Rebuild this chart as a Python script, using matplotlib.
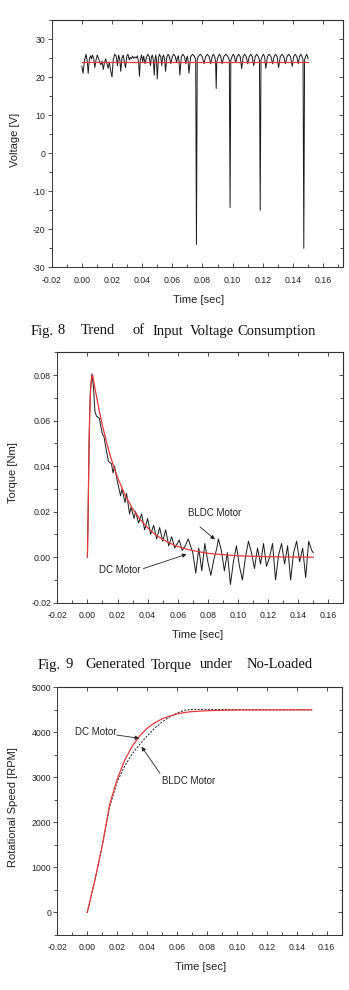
import matplotlib
matplotlib.use("Agg")
import matplotlib.pyplot as plt
from matplotlib.ticker import MultipleLocator, FixedLocator, FixedFormatter

plt.rcParams['font.family'] = ['Liberation Sans', 'DejaVu Sans']

# ---------------- data ----------------
# Fig. 8 : input voltage (black = BLDC, red = DC reference)
volt_t = [0.0000, 0.0008, 0.0018, 0.0028, 0.0036, 0.0042, 0.0050, 0.0058, 0.0064, 0.0070,
          0.0078, 0.0086, 0.0094, 0.0102, 0.0110, 0.0118, 0.0126, 0.0134, 0.0142, 0.0150,
          0.0158, 0.0166, 0.0174, 0.0182, 0.0192, 0.0200, 0.0208, 0.0218, 0.0228, 0.0236,
          0.0244, 0.0252, 0.0258, 0.0266, 0.0274, 0.0282, 0.0290, 0.0298, 0.0306, 0.0314,
          0.0320, 0.0328, 0.0336, 0.0344, 0.0352, 0.0360, 0.0368, 0.0376, 0.0382, 0.0388,
          0.0396, 0.0404, 0.0410,
          0.0420, 0.0429, 0.0438, 0.0447, 0.0455, 0.0461, 0.0467, 0.0474, 0.0480, 0.0485,
          0.0490, 0.0495, 0.0500, 0.0508, 0.0515, 0.0523, 0.0530, 0.0536, 0.0542, 0.0549,
          0.0555, 0.0564, 0.0572, 0.0581, 0.0590, 0.0600, 0.0610, 0.0620, 0.0628, 0.0634,
          0.0640, 0.0645, 0.0650, 0.0660, 0.0670, 0.0680, 0.0690, 0.0695, 0.0700, 0.0705,
          0.0710, 0.0722, 0.0735, 0.0747, 0.0755, 0.0760, 0.0765, 0.0772, 0.0785, 0.0798,
          0.0810, 0.0821, 0.0832, 0.0844, 0.0855, 0.0864, 0.0872, 0.0881, 0.0887, 0.0891,
          0.0895, 0.0904, 0.0912, 0.0921, 0.0930, 0.0942, 0.0955, 0.0968, 0.0978, 0.0983,
          0.0988, 0.0996, 0.1004, 0.1012, 0.1020, 0.1030, 0.1040, 0.1050, 0.1060, 0.1070,
          0.1080, 0.1090, 0.1100, 0.1110, 0.1120, 0.1130, 0.1140, 0.1150, 0.1160, 0.1170,
          0.1178, 0.1183, 0.1188, 0.1196, 0.1204, 0.1212, 0.1220, 0.1231, 0.1242, 0.1254,
          0.1265, 0.1275, 0.1285, 0.1295, 0.1305, 0.1316, 0.1327, 0.1339, 0.1350, 0.1361,
          0.1372, 0.1384, 0.1395, 0.1405, 0.1415, 0.1425, 0.1435, 0.1444, 0.1452, 0.1460,
          0.1467, 0.1472, 0.1477, 0.1484, 0.1491, 0.1497, 0.1500]
volt_bldc = [22.8, 21.0, 24.5, 26.0, 24.0, 21.0, 24.8, 25.6, 24.8, 25.8,
             25.0, 22.5, 24.5, 25.8, 25.0, 24.0, 23.2, 24.2, 22.0, 23.8,
             24.8, 23.5, 22.3, 23.9, 21.5, 20.0, 24.5, 26.0, 25.5, 23.0,
             25.8, 24.5, 21.5, 25.0, 25.8, 24.0, 22.5, 25.5, 26.0, 24.5,
             25.2, 24.8, 25.5, 24.9, 25.3, 25.0, 25.6, 24.0, 20.2, 24.5,
             25.8, 24.0, 25.5,
             23.5, 25.3, 26.0, 25.3, 23.0, 25.2, 25.8, 24.5, 20.5, 24.5,
             25.8, 24.5, 19.5, 25.0, 26.0, 25.3, 23.0, 25.3, 25.8, 24.5,
             21.5, 25.3, 26.0, 25.3, 23.5, 25.4, 26.0, 25.4, 23.8, 25.0,
             25.6, 24.0, 20.5, 25.4, 26.0, 25.4, 23.5, 25.0, 25.5, 24.0,
             21.0, 25.4, 26.0, 25.4, 24.5, -24.0, 24.5, 25.4, 26.0, 25.4,
             23.5, 25.4, 26.0, 25.4, 23.5, 25.4, 26.0, 25.4, 24.0, 17.0,
             24.0, 25.4, 26.0, 25.4, 23.5, 25.4, 26.0, 25.4, 24.5, -14.3,
             24.5, 25.4, 26.0, 25.4, 23.8, 25.4, 26.0, 25.4, 22.2, 25.4,
             26.0, 25.4, 23.5, 25.4, 26.0, 25.4, 23.0, 25.4, 26.0, 25.4,
             24.5, -15.0, 24.5, 25.4, 26.0, 25.4, 22.3, 25.4, 26.0, 25.4,
             23.5, 25.4, 26.0, 25.4, 22.5, 25.4, 26.0, 25.4, 23.5, 25.4,
             26.0, 25.4, 22.8, 25.4, 26.0, 25.4, 23.5, 25.4, 26.0, 25.4,
             24.5, -25.0, 24.5, 25.4, 26.0, 25.4, 24.8]
volt_dc_t = [0.0, 0.15]
volt_dc = [24.0, 24.0]

# Fig. 9 : generated torque
torq_dc_t = [0.0, 0.0005, 0.001, 0.0015, 0.002, 0.0025, 0.003, 0.0035, 0.005, 0.0075,
             0.010, 0.0125, 0.015, 0.0175, 0.020, 0.025, 0.030, 0.035, 0.040, 0.045,
             0.050, 0.055, 0.060, 0.065, 0.070, 0.080, 0.090, 0.100, 0.110, 0.120,
             0.130, 0.150]
torq_dc = [0.0, 0.020, 0.045, 0.062, 0.072, 0.077, 0.0795, 0.080, 0.0742, 0.0655,
           0.0578, 0.0510, 0.0450, 0.0397, 0.0351, 0.0273, 0.0213, 0.0166, 0.0129, 0.0100,
           0.0078, 0.0061, 0.0047, 0.0037, 0.0029, 0.0017, 0.0011, 0.0006, 0.0004, 0.0002,
           0.0001, 0.0]
torq_bldc_t = [0.0, 0.0005, 0.001, 0.0015, 0.002, 0.003, 0.004, 0.005, 0.006, 0.008,
               0.009, 0.010, 0.011, 0.012, 0.014, 0.016, 0.017, 0.018, 0.020, 0.022,
               0.023, 0.025, 0.026, 0.028, 0.029, 0.031, 0.032, 0.034, 0.036, 0.038,
               0.040, 0.042, 0.044, 0.046, 0.048, 0.050, 0.052, 0.054, 0.056, 0.058,
               0.061, 0.063, 0.065, 0.067, 0.070, 0.072, 0.074, 0.076, 0.078, 0.080,
               0.082, 0.084, 0.086, 0.087, 0.089, 0.091, 0.093, 0.095, 0.097, 0.099,
               0.101, 0.103, 0.105, 0.107, 0.109, 0.111, 0.113, 0.115, 0.117, 0.119,
               0.121, 0.123, 0.125, 0.127, 0.129, 0.131, 0.133, 0.135, 0.137, 0.139,
               0.141, 0.143, 0.145, 0.147, 0.149, 0.150]
torq_bldc = [0.0, 0.020, 0.046, 0.063, 0.073, 0.0805, 0.075, 0.064, 0.062, 0.061,
             0.057, 0.054, 0.053, 0.049, 0.042, 0.041, 0.037, 0.040, 0.033, 0.027,
             0.030, 0.024, 0.028, 0.019, 0.022, 0.017, 0.020, 0.015, 0.019, 0.012,
             0.017, 0.010, 0.014, 0.008, 0.013, 0.007, 0.012, 0.005, 0.009, 0.004,
             0.0075, 0.003, 0.005, 0.008, 0.002, -0.007, 0.004, -0.006, 0.006, -0.002,
             -0.008, -0.001, 0.004, 0.008, 0.003, -0.006, 0.002, -0.012, -0.002, 0.005,
             -0.004, -0.010, 0.000, 0.007, 0.002, -0.005, 0.004, -0.003, 0.006, -0.004,
             0.000, 0.006, -0.010, 0.001, 0.006, -0.003, 0.005, -0.010, 0.002, 0.007,
             -0.002, 0.004, -0.009, 0.007, 0.003, 0.002]

# Fig. 10 : rotational speed
speed_t = [0.0, 0.005, 0.010, 0.015, 0.020, 0.025, 0.030, 0.035, 0.040, 0.045,
           0.050, 0.055, 0.060, 0.065, 0.070, 0.080, 0.090, 0.100, 0.150]
speed_dc = [0, 700, 1480, 2400, 2960, 3380, 3690, 3920, 4090, 4210,
            4300, 4360, 4410, 4440, 4460, 4480, 4490, 4495, 4500]
speed_bldc = [0, 700, 1480, 2350, 2900, 3250, 3520, 3730, 3920, 4090,
              4230, 4340, 4430, 4490, 4510, 4510, 4508, 4505, 4500]

xticks = [-0.02, 0.00, 0.02, 0.04, 0.06, 0.08, 0.10, 0.12, 0.14, 0.16]
xtick_labels = ["-0.02", "0.00", "0.02", "0.04", "0.06", "0.08", "0.10", "0.12", "0.14", "0.16"]
volt_ticks = [-30, -20, -10, 0, 10, 20, 30]
volt_labels = ["-30", "-20", "-10", "0", "10", "20", "30"]
torq_ticks = [-0.02, 0.00, 0.02, 0.04, 0.06, 0.08]
torq_labels = ["-0.02", "0.00", "0.02", "0.04", "0.06", "0.08"]
speed_ticks = [0, 1000, 2000, 3000, 4000, 5000]
speed_labels = ["0", "1000", "2000", "3000", "4000", "5000"]

captions = [
    (["Fig.", "8", "Trend", "of", "Input", "Voltage", "Consumption"],
     [42, 61, 98.3, 138.3, 168.3, 211.7, 276.7], 331),
    (["Fig.", "9", "Generated", "Torque", "under", "No-Loaded"],
     [49, 68.8, 115, 171.7, 216.7, 279.2], 665),
]

# ---------------- figure ----------------
W, H = 349, 990
fig = plt.figure(figsize=(W / 100, H / 100), dpi=100)

RED = '#e5383c'
BLK = '#1a1a1a'
TICK_FS = 6.3
LAB_FS = 8


def px_axes(l, r, t, b):
    return fig.add_axes([l / W, 1 - b / H, (r - l) / W, (b - t) / H])


def style(ax, xlim, ylim, yt, yl, ymin, xlabel, ylabel, xlab_xy, ylab_xy):
    ax.set_xlim(*xlim)
    ax.set_ylim(*ylim)
    ax.xaxis.set_major_locator(FixedLocator(xticks))
    ax.xaxis.set_major_formatter(FixedFormatter(xtick_labels))
    ax.xaxis.set_minor_locator(MultipleLocator(0.01))
    ax.yaxis.set_major_locator(FixedLocator(yt))
    ax.yaxis.set_major_formatter(FixedFormatter(yl))
    ax.yaxis.set_minor_locator(MultipleLocator(ymin))
    ax.tick_params(axis='x', which='both', direction='in', bottom=True, top=False,
                   labelsize=TICK_FS, pad=6, width=0.6, color='#333')
    ax.tick_params(axis='x', which='major', length=3)
    ax.tick_params(axis='x', which='minor', length=2)
    ax.tick_params(axis='y', which='both', direction='out', left=True, right=False,
                   labelsize=TICK_FS, pad=1.5, width=0.6, color='#333')
    ax.tick_params(axis='y', which='major', length=3)
    ax.tick_params(axis='y', which='minor', length=2)
    for s in ax.spines.values():
        s.set_linewidth(0.7)
        s.set_color('#333')
    # top / right inward ticks
    sx = ax.secondary_xaxis('top')
    sx.xaxis.set_major_locator(FixedLocator(xticks))
    sx.xaxis.set_minor_locator(MultipleLocator(0.01))
    sx.tick_params(which='both', direction='in', labeltop=False, width=0.6, color='#333')
    sx.tick_params(which='major', length=3)
    sx.tick_params(which='minor', length=0)
    sy = ax.secondary_yaxis('right')
    sy.yaxis.set_major_locator(FixedLocator(yt))
    sy.yaxis.set_minor_locator(MultipleLocator(ymin))
    sy.tick_params(which='both', direction='in', labelright=False, width=0.6, color='#333')
    sy.tick_params(which='major', length=3)
    sy.tick_params(which='minor', length=2)
    ax.set_xlabel(xlabel, fontsize=LAB_FS, color='#222')
    ax.set_ylabel(ylabel, fontsize=LAB_FS, color='#222')
    ax.xaxis.set_label_coords(*xlab_xy)
    ax.yaxis.set_label_coords(*ylab_xy)
    for lab in ax.get_xticklabels() + ax.get_yticklabels():
        lab.set_color('#222')


def arrow(ax, head, tail):
    ax.annotate('', xy=head, xytext=tail,
                arrowprops=dict(arrowstyle='-|>', color='#222', lw=0.6,
                                mutation_scale=6, shrinkA=0, shrinkB=0))


# Panel 1
ax1 = px_axes(51.7, 342.7, 20, 267.3)
ax1.plot(volt_t, volt_bldc, color=BLK, lw=0.7)
ax1.plot(volt_dc_t, volt_dc, color=RED, lw=0.9)
style(ax1, (-0.02, 0.173), (-30, 35), volt_ticks, volt_labels, 5,
      'Time [sec]', 'Voltage [V]', (0.503, -0.112), (-0.109, 0.515))

# Panel 2
ax2 = px_axes(57.3, 342.7, 352.3, 602.7)
ax2.plot(torq_bldc_t, torq_bldc, color=BLK, lw=0.7)
ax2.plot(torq_dc_t, torq_dc, color=RED, lw=0.9)
style(ax2, (-0.02, 0.1696), (-0.02, 0.09), torq_ticks, torq_labels, 0.01,
      'Time [sec]', 'Torque [Nm]', (0.493, -0.109), (-0.137, 0.518))
ax2.text(0.0847, 0.0195, 'BLDC Motor', fontsize=7, ha='center', va='center', color='#222')
arrow(ax2, (0.0847, 0.0078), (0.0748, 0.0133))
ax2.text(0.0217, -0.0057, 'DC Motor', fontsize=7, ha='center', va='center', color='#222')
arrow(ax2, (0.0659, 0.0013), (0.0372, -0.0050))

# Panel 3
ax3 = px_axes(57.3, 341.7, 687.3, 935)
ax3.plot(speed_t, speed_bldc, color=BLK, lw=0.7, ls=(0, (2, 1.5)))
ax3.plot(speed_t, speed_dc, color=RED, lw=0.9)
style(ax3, (-0.02, 0.170), (-500, 5000), speed_ticks, speed_labels, 500,
      'Time [sec]', 'Rotational Speed [RPM]', (0.502, -0.109), (-0.137, 0.517))
ax3.text(0.0056, 4015, 'DC Motor', fontsize=7, ha='center', va='center', color='#222')
arrow(ax3, (0.0348, 3867), (0.0196, 3941))
ax3.text(0.0675, 2926, 'BLDC Motor', fontsize=7, ha='center', va='center', color='#222')
arrow(ax3, (0.0363, 3681), (0.0486, 3089))

# Captions (justified, serif)
for words, xs, yc in captions:
    for w, x in zip(words, xs):
        fig.text(x / W, 1 - yc / H, w, ha='center', va='center', fontsize=10.5,
                 family=['Liberation Serif', 'DejaVu Serif'], color='#111')

fig.savefig('out.png', dpi=100)
